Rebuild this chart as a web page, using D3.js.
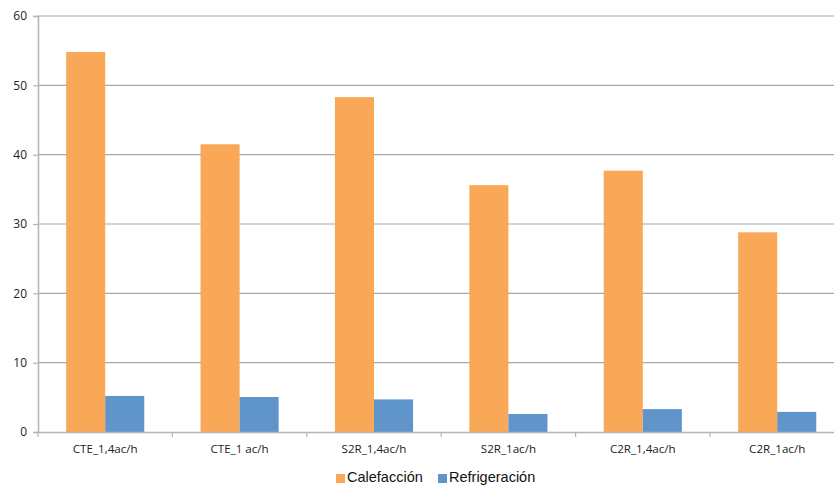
<!DOCTYPE html>
<html>
<head>
<meta charset="utf-8">
<script src="https://cdn.jsdelivr.net/npm/d3@7"></script>
<style>
  html, body { margin: 0; padding: 0; background: #fff; }
  svg { display: block; }
</style>
</head>
<body>
<svg id="chart" width="834" height="485"></svg>
<script>
// Demanda energética por caso de ventilación
const categories = ["CTE_1,4ac/h", "CTE_1 ac/h", "S2R_1,4ac/h", "S2R_1ac/h", "C2R_1,4ac/h", "C2R_1ac/h"];
const seriesNames = ["Calefacción", "Refrigeración"];
const calefaccion = [54.8, 41.5, 48.3, 35.6, 37.7, 28.8];
const refrigeracion = [5.2, 5.05, 4.7, 2.6, 3.3, 2.9];
const yTicks = [0, 10, 20, 30, 40, 50, 60];
const colors = ["#F9A857", "#5F95CB"];

const svg = d3.select("#chart");
const plot = { left: 38, right: 844.4, top: 16, bottom: 432 };

const x = d3.scaleBand().domain(categories).range([plot.left, plot.right]).paddingInner(0).paddingOuter(0);
const xInner = d3.scaleBand().domain(seriesNames).range([0, x.bandwidth()]).paddingInner(0).paddingOuter(0.72);
const y = d3.scaleLinear().domain([0, 60]).range([plot.bottom, plot.top]);

// horizontal gridlines
svg.append("g")
  .selectAll("line")
  .data(yTicks.filter(d => d > 0))
  .join("line")
  .attr("x1", plot.left).attr("x2", plot.right)
  .attr("y1", d => y(d)).attr("y2", d => y(d))
  .attr("stroke", "#a9a9a9").attr("stroke-width", 1.2);

// bars
const rows = categories.map((c, i) => ({ cat: c, vals: [calefaccion[i], refrigeracion[i]] }));
const groups = svg.append("g").selectAll("g")
  .data(rows).join("g")
  .attr("transform", d => `translate(${x(d.cat)},0)`);
groups.selectAll("rect")
  .data(d => d.vals.map((v, k) => ({ name: seriesNames[k], v, k })))
  .join("rect")
  .attr("x", d => xInner(d.name))
  .attr("width", xInner.bandwidth())
  .attr("y", d => y(d.v))
  .attr("height", d => y(0) - y(d.v))
  .attr("fill", d => colors[d.k]);

// y axis
const yAxis = d3.axisLeft(y).tickValues(yTicks).tickSize(5).tickPadding(6);
const gy = svg.append("g").attr("transform", `translate(${plot.left},0)`).call(yAxis);
gy.select(".domain").attr("stroke", "#b4b4b4").attr("stroke-width", 1.5);
gy.selectAll(".tick line").attr("stroke", "#b4b4b4").attr("stroke-width", 1.2);
gy.selectAll(".tick text")
  .attr("fill", "#222")
  .style("font-family", "'Open Sans', 'Noto Sans', sans-serif")
  .style("font-size", "12px");

// x axis
const xAxis = d3.axisBottom(x).tickSize(0).tickPadding(13);
const gx = svg.append("g").attr("transform", `translate(0,${plot.bottom})`).call(xAxis);
gx.select(".domain").attr("stroke", "#b4b4b4").attr("stroke-width", 1.5);
gx.selectAll(".tick text")
  .attr("fill", "#222")
  .style("font-family", "'Open Sans', 'Noto Sans', sans-serif")
  .style("font-size", "11.6px");
// category boundary ticks
gx.append("g").selectAll("line")
  .data(categories.concat(["end"]))
  .join("line")
  .attr("x1", (d, i) => plot.left + i * x.bandwidth())
  .attr("x2", (d, i) => plot.left + i * x.bandwidth())
  .attr("y1", 0).attr("y2", 5)
  .attr("stroke", "#b4b4b4").attr("stroke-width", 1.2);

// legend
const legend = svg.append("g");
const legendItems = [
  { name: seriesNames[0], color: colors[0], x: 336 },
  { name: seriesNames[1], color: colors[1], x: 438 }
];
legendItems.forEach(it => {
  legend.append("rect").attr("x", it.x).attr("y", 474).attr("width", 9).attr("height", 9).attr("fill", it.color);
  legend.append("text").attr("x", it.x + 11).attr("y", 482)
    .text(it.name)
    .attr("fill", "#111")
    .style("font-family", "'Liberation Sans', Arial, sans-serif")
    .style("font-size", "14.5px");
});
</script>
</body>
</html>
